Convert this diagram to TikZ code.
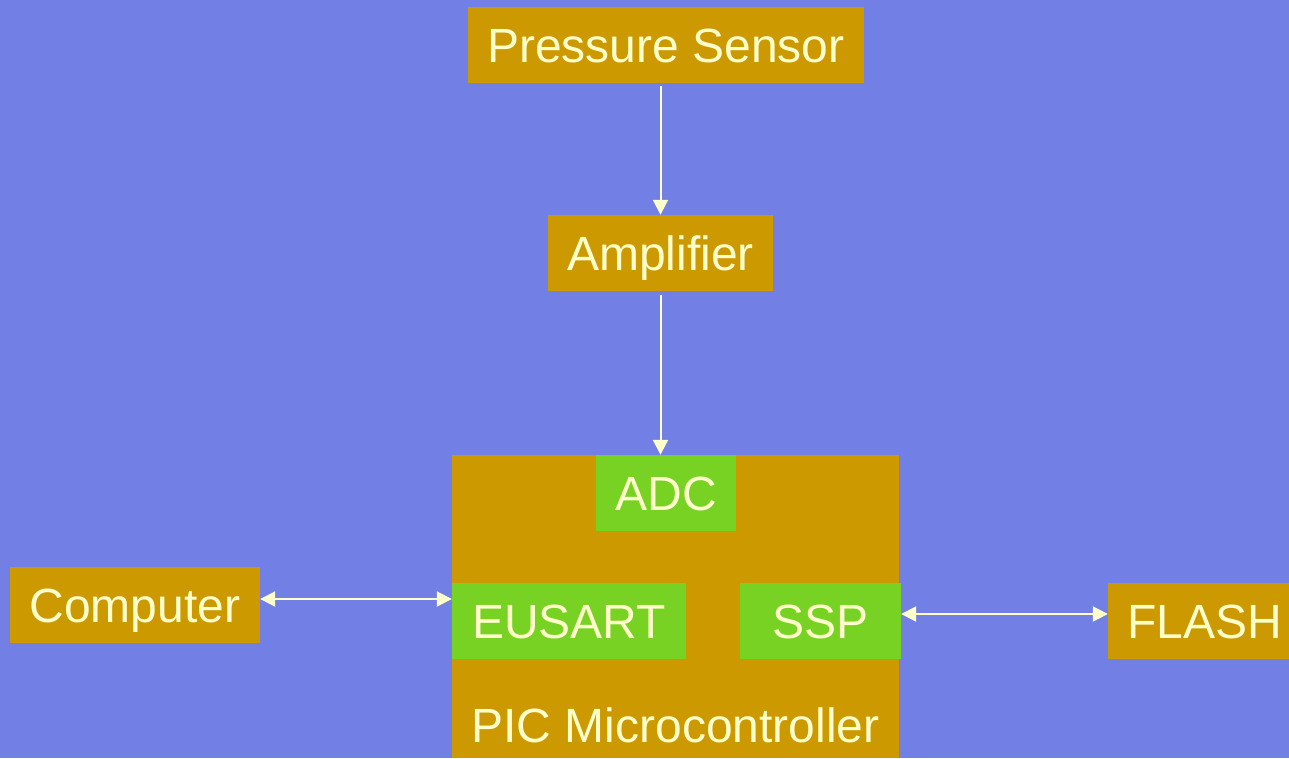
\documentclass[tikz,border=0pt]{standalone}
\usepackage{fontspec}
\setmainfont{Liberation Sans}
\usetikzlibrary{arrows.meta}

\definecolor{slidebg}{RGB}{114,128,230}
\definecolor{gold}{RGB}{204,153,0}
\definecolor{leaf}{RGB}{119,210,36}
\definecolor{cream}{RGB}{255,255,204}

\tikzset{
    blockbox/.style={fill=gold, inner sep=0pt, minimum height=76pt, text=cream,
        font=\fontsize{48}{58}\selectfont, text height=35pt, text depth=0pt},
    unitbox/.style={blockbox, fill=leaf},
    link/.style={draw=cream, line width=2pt, -{Triangle[length=15pt,width=15pt]}},
    duplex/.style={link, {Triangle[length=15pt,width=15pt]}-{Triangle[length=15pt,width=15pt]}}
}

\begin{document}
\begin{tikzpicture}[x=1pt,y=-1pt]
        \clip (0,0) rectangle (1289,758);
        \fill[slidebg] (0,0) rectangle (1289,758);

        % chain from the sensor
        \node[blockbox, minimum width=396pt] (sensor) at (666,45) {Pressure Sensor};
        \node[blockbox, minimum width=225pt] (amp) at (660.5,253) {Amplifier};

        % the microcontroller and its units
        \node[blockbox, minimum width=447pt, minimum height=303pt] (pic) at (675.5,606.5) {};
        \node[text=cream, font=\fontsize{48}{58}\selectfont, anchor=base] (pictext) at (675.5,742) {PIC Microcontroller};
        \node[unitbox, minimum width=140pt] (adc) at (666,493) {ADC};
        \node[unitbox, minimum width=234pt] (eusart) at (569,621) {EUSART};
        \node[unitbox, minimum width=161pt] (ssp) at (820.5,621) {SSP};

        % outside parts
        \node[blockbox, minimum width=250pt] (computer) at (135,605) {Computer};
        \node[blockbox, minimum width=193pt] (flash) at (1204.5,621) {FLASH};

        \draw[link, shorten <=3pt] (sensor.south -| amp) -- (amp.north);
        \draw[link, shorten <=4pt] (amp.south) -- (amp.south |- adc.north);
        \draw[duplex] ([yshift=6pt]computer.east) -- ([yshift=6pt]computer.east -| eusart.west);
        \draw[duplex] ([yshift=7pt]ssp.east) -- ([yshift=7pt]ssp.east -| flash.west);
\end{tikzpicture}
\end{document}
